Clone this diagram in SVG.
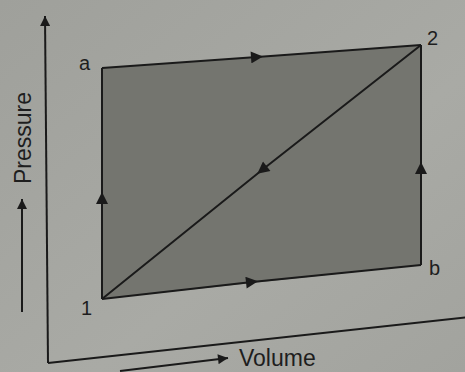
<svg xmlns="http://www.w3.org/2000/svg" width="465" height="372" viewBox="0 0 465 372">
<defs>
<linearGradient id="bg" x1="0" y1="0" x2="1" y2="1">
<stop offset="0" stop-color="#9fa09b"/>
<stop offset="0.6" stop-color="#a9aaa5"/>
<stop offset="1" stop-color="#a2a39e"/>
</linearGradient>
<marker id="ah" viewBox="0 0 10 10" refX="10" refY="5" markerWidth="11" markerHeight="10" markerUnits="userSpaceOnUse" orient="auto">
<path d="M0,0 L10,5 L0,10 z" fill="#1a1a1a"/>
</marker>
<marker id="mid" viewBox="0 0 10 10" refX="5" refY="5" markerWidth="13" markerHeight="12" markerUnits="userSpaceOnUse" orient="auto">
<path d="M0,0 L10,5 L0,10 z" fill="#1a1a1a"/>
</marker>
</defs>
<style>
.ln{stroke:#1a1a1a;stroke-width:2;fill:none}
.lbl{font-family:"Liberation Sans",Arial,sans-serif;font-size:20px;fill:#1e1e1e}
.ax{font-family:"Liberation Sans",Arial,sans-serif;font-size:23px;fill:#1e1e1e}
</style>
<rect width="465" height="372" fill="url(#bg)"/>
<g id="axes">
<path class="ln" d="M48,363 L45,16" marker-end="url(#ah)"/>
<path class="ln" d="M48,363 L470,317"/>
<path class="ln" d="M22,312 L22,199" marker-end="url(#ah)"/>
<path class="ln" d="M120,371 L228,358" marker-end="url(#ah)"/>
<text class="ax" transform="translate(31,138) rotate(-90)" text-anchor="middle">Pressure</text>
<text class="ax" x="239" y="366">Volume</text>
</g>
<g id="region">
<polygon points="102,68 421,45 421,265 102,299" fill="#74756f"/>
</g>
<g id="connectors">
<path class="ln" d="M102,68 L257,57 L421,45" marker-mid="url(#mid)"/>
<path class="ln" d="M102,299 L252,282 L421,265" marker-mid="url(#mid)"/>
<path class="ln" d="M102,299 L102,198 L102,68" marker-mid="url(#mid)"/>
<path class="ln" d="M421,265 L421,168 L421,45" marker-mid="url(#mid)"/>
<path class="ln" d="M421,45 L262,170 L102,299" marker-mid="url(#mid)"/>
</g>
<g id="node-a"><text class="lbl" x="79" y="70">a</text></g>
<g id="node-2"><text class="lbl" x="427" y="45">2</text></g>
<g id="node-1"><text class="lbl" x="81" y="315">1</text></g>
<g id="node-b"><text class="lbl" x="429" y="275">b</text></g>
</svg>
